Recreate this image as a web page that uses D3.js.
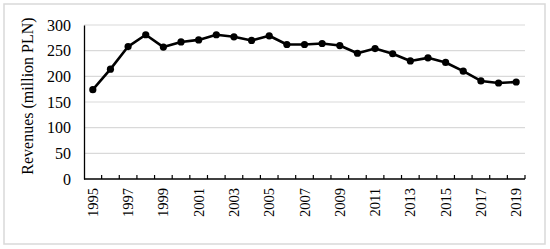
<!DOCTYPE html>
<html>
<head>
<meta charset="utf-8">
<script src="https://cdn.jsdelivr.net/npm/d3@7"></script>
<style>
  body { margin: 0; background: #fff; }
  svg { display: block; font-family: "Liberation Serif", "Times New Roman", serif; }
</style>
</head>
<body>
<svg width="550" height="249"></svg>
<script>
const years = d3.range(1995, 2020).map(String)
const revenues = [174, 214, 258, 281, 257, 267, 271, 281, 277, 270, 279, 262, 262, 264, 260,
                  245, 254, 244, 230, 236, 227, 210, 191, 187, 189]
const yTicks = [0, 50, 100, 150, 200, 250, 300]

const svg = d3.select('svg'),
    margin = {top: 25, right: 25, bottom: 70, left: 84},
    width = 550 - margin.left - margin.right,
    height = 249 - margin.top - margin.bottom

// outer frame
svg.append('rect')
    .attr('x', 4).attr('y', 4)
    .attr('width', 541).attr('height', 240)
    .attr('fill', 'none')
    .attr('stroke', '#d9d9d9')
    .attr('stroke-width', 1.5)

const x = d3.scaleBand().domain(years).range([0, width]),
    y = d3.scaleLinear().domain([0, 300]).range([height, 0])

const chart = svg.append('g')
    .attr('transform', 'translate(' + margin.left + ',' + margin.top + ')')

// gridlines
chart.append('g')
  .selectAll('line')
  .data(yTicks.filter(d => d > 0))
  .join('line')
    .attr('x1', 0).attr('x2', width)
    .attr('y1', d => y(d)).attr('y2', d => y(d))
    .attr('stroke', '#d9d9d9')
    .attr('stroke-width', 1.2)

// y axis
const yAxis = chart.append('g')
    .call(d3.axisLeft(y).tickValues(yTicks).tickSize(0).tickPadding(13))
yAxis.select('.domain').attr('stroke', '#000').attr('stroke-width', 1.3)
yAxis.selectAll('text').attr('font-size', 16).attr('font-family', '"Liberation Serif", serif').attr('fill', '#000')

// x axis, ticks at category boundaries (pointing up)
const xAxis = chart.append('g')
    .attr('transform', 'translate(0,' + height + ')')
xAxis.append('line')
    .attr('x1', 0).attr('x2', width)
    .attr('stroke', '#000').attr('stroke-width', 1.3)
xAxis.selectAll('.tk')
  .data(years.slice(1).concat(['end']))
  .join('line')
    .attr('class', 'tk')
    .attr('x1', (d, i) => (i + 1) * x.step()).attr('x2', (d, i) => (i + 1) * x.step())
    .attr('y1', 0).attr('y2', -4)
    .attr('stroke', '#000').attr('stroke-width', 1.2)
xAxis.selectAll('text')
  .data(years.filter((d, i) => i % 2 == 0))
  .join('text')
    .attr('transform', d => 'translate(' + (x(d) + x.bandwidth() / 2 + 5) + ',9) rotate(-90)')
    .attr('text-anchor', 'end')
    .attr('font-size', 14.5)
    .attr('fill', '#000')
    .text(d => d)

// y title
svg.append('text')
    .attr('transform', 'translate(33,96) rotate(-90)')
    .attr('text-anchor', 'middle')
    .attr('font-size', 16)
    .attr('fill', '#000')
    .text('Revenues (million PLN)')

// line + markers
const cx = d => x(d) + x.bandwidth() / 2
chart.append('path')
    .datum(revenues)
    .attr('fill', 'none')
    .attr('stroke', '#000')
    .attr('stroke-width', 2.6)
    .attr('stroke-linejoin', 'round')
    .attr('d', d3.line().x((d, i) => cx(years[i])).y(d => y(d)))

chart.selectAll('.pt')
  .data(revenues)
  .join('circle')
    .attr('class', 'pt')
    .attr('cx', (d, i) => cx(years[i]))
    .attr('cy', d => y(d))
    .attr('r', 3.6)
    .attr('fill', '#000')
</script>
</body>
</html>
